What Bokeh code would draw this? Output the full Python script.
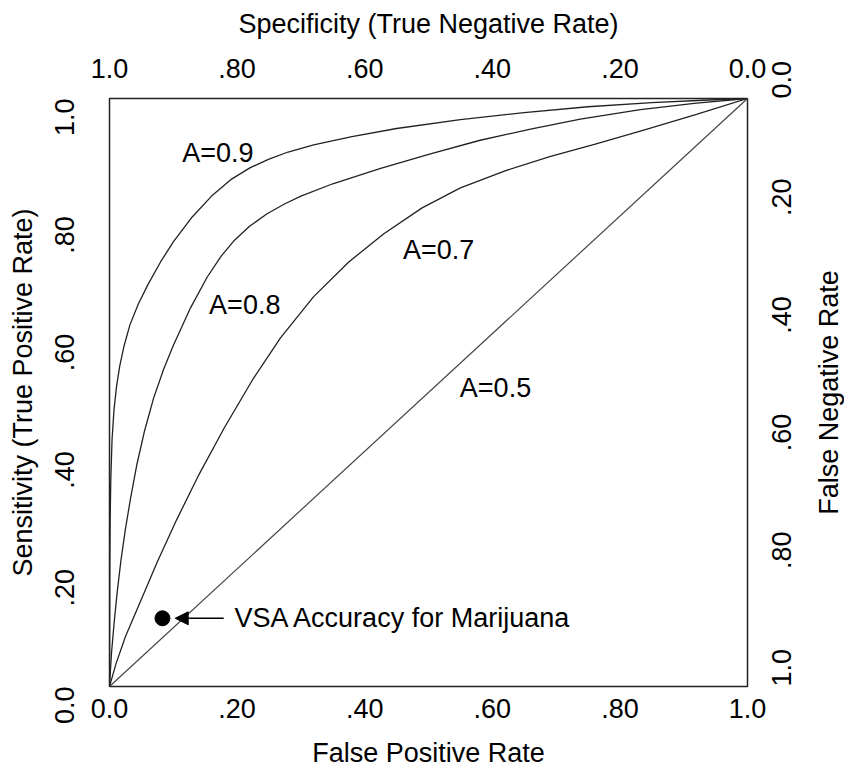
import math
from bokeh.plotting import figure
from bokeh.layouts import row, column
from bokeh.models import Range1d, LinearAxis, FixedTicker, Arrow, NormalHead
from bokeh.core.properties import value
from bokeh.embed import file_html
from bokeh.resources import INLINE

# ---- data ----
a09_fpr = [0.0, 0.0005, 0.001, 0.002, 0.004, 0.007, 0.011, 0.016, 0.023, 0.032, 0.045, 0.06,
           0.08, 0.10, 0.13, 0.16, 0.19, 0.22, 0.25, 0.28, 0.32, 0.38, 0.45, 0.55, 0.65,
           0.75, 0.85, 0.93, 1.0]
a09_tpr = [0.0, 0.20, 0.28, 0.35, 0.42, 0.47, 0.51, 0.545, 0.58, 0.615, 0.65, 0.683,
           0.722, 0.756, 0.799, 0.834, 0.862, 0.882, 0.897, 0.909, 0.921, 0.935, 0.949, 0.964,
           0.976, 0.986, 0.993, 0.997, 1.0]

a08_fpr = [0.0, 0.003, 0.007, 0.012, 0.018, 0.025, 0.033, 0.043, 0.055, 0.069, 0.085, 0.10,
           0.127, 0.153, 0.175, 0.195, 0.22, 0.247, 0.275, 0.30, 0.35, 0.425, 0.503, 0.581,
           0.66, 0.738, 0.832, 0.92, 1.0]
a08_tpr = [0.0, 0.055, 0.105, 0.16, 0.215, 0.268, 0.32, 0.378, 0.435, 0.49, 0.54, 0.58,
           0.644, 0.696, 0.732, 0.758, 0.783, 0.804, 0.821, 0.834, 0.855, 0.881, 0.906, 0.929,
           0.948, 0.965, 0.981, 0.992, 1.0]

a07_fpr = [0.0, 0.01, 0.025, 0.049, 0.075, 0.105, 0.14, 0.18, 0.225, 0.268, 0.32, 0.375,
           0.43, 0.49, 0.55, 0.62, 0.69, 0.76, 0.84, 0.92, 1.0]
a07_tpr = [0.0, 0.038, 0.085, 0.146, 0.212, 0.283, 0.36, 0.44, 0.523, 0.593, 0.663, 0.722,
           0.770, 0.814, 0.848, 0.877, 0.901, 0.922, 0.947, 0.973, 1.0]

diag_x = [0.0, 1.0]
diag_y = [0.0, 1.0]

vsa_fpr = [0.083]
vsa_tpr = [0.116]

tick_vals = [0.0, 0.2, 0.4, 0.6, 0.8, 1.0]
tick_labels = ["0.0", ".20", ".40", ".60", ".80", "1.0"]

curve_labels = ["A=0.9", "A=0.8", "A=0.7", "A=0.5"]
label_x = [0.170, 0.212, 0.516, 0.605]
label_y = [0.908, 0.649, 0.743, 0.508]

FONT = "Liberation Sans"
FS = "27px"

p = figure(width=812, height=736, output_backend="svg", toolbar_location=None,
           x_range=Range1d(0, 1), y_range=Range1d(0, 1),
           x_axis_location=None, y_axis_location=None,
           min_border_left=109, min_border_right=65, min_border_top=98, min_border_bottom=50)
p.grid.visible = False
p.outline_line_color = "#222222"
p.outline_line_width = 1.5
p.background_fill_color = "white"
p.border_fill_color = "white"

p.extra_x_ranges = {"spec": Range1d(1, 0)}
p.extra_y_ranges = {"fnr": Range1d(1, 0)}

overrides = {v: l for v, l in zip(tick_vals, tick_labels)}


def style(ax, title, label_standoff, title_standoff, vertical=False):
    ax.ticker = FixedTicker(ticks=tick_vals)
    ax.axis_line_color = None
    ax.major_tick_line_color = None
    ax.minor_tick_line_color = None
    ax.major_tick_out = 0
    ax.major_tick_in = 0
    ax.minor_tick_out = 0
    ax.major_label_text_font = FONT
    ax.major_label_text_font_size = FS
    ax.major_label_text_color = "black"
    ax.major_label_standoff = label_standoff
    ax.major_label_overrides = overrides
    if title:
        ax.axis_label = title
        ax.axis_label_text_font = FONT
        ax.axis_label_text_font_size = FS
        ax.axis_label_text_font_style = "normal"
        ax.axis_label_text_color = "black"
        ax.axis_label_standoff = title_standoff
    if vertical:
        ax.major_label_orientation = math.pi / 2


xb = LinearAxis()
style(xb, None, 12, 0)
p.add_layout(xb, "below")

xt = LinearAxis(x_range_name="spec")
style(xt, "Specificity (True Negative Rate)", 21, 17)
p.add_layout(xt, "above")

yl = LinearAxis()
style(yl, "Sensitivity (True Positive Rate)", 45, 5, vertical=True)
p.add_layout(yl, "left")

yr = LinearAxis(y_range_name="fnr")
style(yr, None, 34, 0, vertical=True)
p.add_layout(yr, "right")

line_kw = dict(line_color="#222222", line_width=1.3)
p.line(a09_fpr, a09_tpr, **line_kw)
p.line(a08_fpr, a08_tpr, **line_kw)
p.line(a07_fpr, a07_tpr, **line_kw)
p.line(diag_x, diag_y, line_color="#444444", line_width=1.2)

p.text(x=label_x, y=label_y, text=curve_labels, text_font=value(FONT), text_font_size=FS,
       text_align="center", text_baseline="middle", text_color="black")

p.scatter(vsa_fpr, vsa_tpr, size=15, fill_color="black", line_color="black")
p.add_layout(Arrow(end=NormalHead(size=13, fill_color="black", line_color="black"),
                   x_start=0.179, y_start=vsa_tpr[0], x_end=0.103, y_end=vsa_tpr[0],
                   line_color="black", line_width=1.5))
p.text(x=[0.196], y=vsa_tpr, text=["VSA Accuracy for Marijuana"], text_font=value(FONT),
       text_font_size=FS, text_align="left", text_baseline="middle", text_color="black")

# ---- right axis title strip (False Negative Rate), aligned to the main frame ----
p_r = figure(width=32, height=736, output_backend="svg", toolbar_location=None,
             x_range=Range1d(0, 1), y_range=p.y_range,
             x_axis_location=None, y_axis_location=None,
             min_border_left=0, min_border_right=0, min_border_top=98, min_border_bottom=50)
p_r.grid.visible = False
p_r.outline_line_color = None
p_r.text(x=[0.5], y=[0.5], text=["False Negative Rate"], angle=math.pi / 2,
         text_font=value(FONT), text_font_size=FS, text_align="center",
         text_baseline="middle", text_color="black")

# ---- bottom axis title strip (False Positive Rate), aligned to the main frame ----
p_b = figure(width=844, height=33, output_backend="svg", toolbar_location=None,
             x_range=p.x_range, y_range=Range1d(0, 1),
             x_axis_location=None, y_axis_location=None,
             min_border_left=109, min_border_right=97, min_border_top=0, min_border_bottom=0)
p_b.grid.visible = False
p_b.outline_line_color = None
p_b.text(x=[0.5], y=[0.5], text=["False Positive Rate"],
         text_font=value(FONT), text_font_size=FS, text_align="center",
         text_baseline="middle", text_color="black")

layout = column(row(p, p_r, spacing=0), p_b, spacing=0)

open("out.html", "w").write(file_html(layout, INLINE))
